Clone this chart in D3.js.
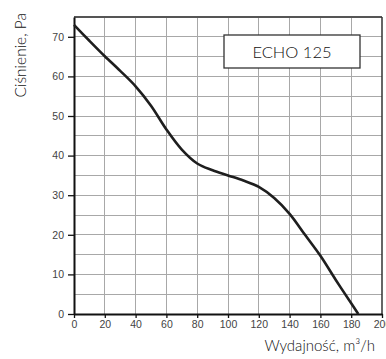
<!DOCTYPE html>
<html><head><meta charset="utf-8">
<script src="https://cdn.jsdelivr.net/npm/d3@7"></script>
<style>html,body{margin:0;padding:0;background:#fff;}</style>
</head><body>
<script>
const flow = [0,10,20,30,40,50,60,70,80,90,100,110,120,130,140,150,160,170,180,184.6];
const pressure = [73,69,65.1,61.4,57.5,52.6,46.6,41.5,38,36.3,35,33.7,32.1,29.3,25.3,20,14.7,8.6,2.7,0];
const xTicks = [0,20,40,60,80,100,120,140,160,180,200];
const yTicks = [0,10,20,30,40,50,60,70];
const xGrid = [20,40,60,80,100,120,140,160,180];
const yGrid = [5,10,15,20,25,30,35,40,45,50,55,60,65,70];
const title = "ECHO 125";
const xLabel = "Wydajność, m³/h";
const yLabel = "Ciśnienie, Pa";

const W = 386, H = 359;
const L = 74, R = 382, T = 17, B = 314;
const svg = d3.select("body").append("svg").attr("width", W).attr("height", H);
const x = d3.scaleLinear().domain([0,200]).range([L,R]);
const y = d3.scaleLinear().domain([0,75]).range([B,T]);
const labelFont = "Lato, sans-serif";

// grid
svg.append("g").selectAll("line").data(xGrid).join("line")
  .attr("x1", d=>x(d)).attr("x2", d=>x(d)).attr("y1", T).attr("y2", B)
  .attr("stroke", "#a8a8a8").attr("stroke-width", 1).attr("shape-rendering","crispEdges");
svg.append("g").selectAll("line").data(yGrid).join("line")
  .attr("y1", d=>y(d)).attr("y2", d=>y(d)).attr("x1", L).attr("x2", R)
  .attr("stroke", "#a8a8a8").attr("stroke-width", 1).attr("shape-rendering","crispEdges");

// frame top & right
svg.append("line").attr("x1", L).attr("x2", R).attr("y1", T).attr("y2", T)
  .attr("stroke", "#555").attr("stroke-width", 2);
svg.append("line").attr("x1", R).attr("x2", R).attr("y1", T).attr("y2", B)
  .attr("stroke", "#333").attr("stroke-width", 1.5);

// axes
const xAxis = svg.append("g").attr("transform", `translate(0,${B})`)
  .call(d3.axisBottom(x).tickValues(xTicks).tickSize(4).tickSizeOuter(0).tickPadding(3));
const yAxis = svg.append("g").attr("transform", `translate(${L},0)`)
  .call(d3.axisLeft(y).tickValues(yTicks).tickSize(6).tickSizeOuter(0).tickPadding(4));
[xAxis, yAxis].forEach(g => {
  g.select(".domain").attr("stroke", "#111").attr("stroke-width", 2);
  g.selectAll(".tick line").attr("stroke", "#111").attr("stroke-width", 1.3);
  g.selectAll(".tick text").attr("fill", "#444").style("font-family", "Liberation Sans, Arial, sans-serif").style("font-size", "10.5px");
});

// curve
const line = d3.line().x((d,i)=>x(flow[i])).y(d=>y(d)).curve(d3.curveCatmullRom.alpha(0.5));
svg.append("path").datum(pressure).attr("d", line)
  .attr("fill", "none").attr("stroke", "#1e1e1e").attr("stroke-width", 2.6);

// title box
svg.append("rect").attr("x", 224).attr("y", 35).attr("width", 136).attr("height", 33)
  .attr("fill", "#fff").attr("stroke", "#333").attr("stroke-width", 1.3);
svg.append("text").attr("x", 292).attr("y", 58).attr("text-anchor", "middle")
  .style("font-family", labelFont).style("font-weight", 300).style("font-size", "16.5px").attr("fill", "#111")
  .text(title);

// axis labels
svg.append("text").attr("x", 375).attr("y", 351).attr("text-anchor", "end")
  .style("font-family", labelFont).style("font-weight", 300).style("font-size", "15px").attr("fill", "#111")
  .text(xLabel);
svg.append("text").attr("transform", "translate(26,13) rotate(-90)").attr("text-anchor", "end")
  .style("font-family", labelFont).style("font-weight", 300).style("font-size", "15.5px").attr("fill", "#111")
  .text(yLabel);
</script>
</body></html>
